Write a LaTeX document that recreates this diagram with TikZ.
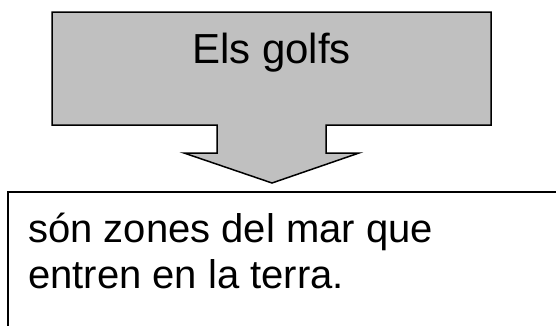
\documentclass[tikz,border=0pt]{standalone}
\usepackage{fontspec}
\setmainfont{Liberation Sans}
\begin{document}
\begin{tikzpicture}[x=1pt,y=-1pt,
  shapeline/.style={draw=black,line width=1.5pt,line join=miter},
  titletext/.style={inner sep=0pt,font=\fontsize{42}{48}\selectfont},
  bodytext/.style={inner sep=0pt,anchor=base west,font=\fontsize{40}{46}\selectfont}]
\useasboundingbox (0,0) rectangle (556,325);
\clip (0,0) rectangle (556,325);
% callout with down arrow
\draw[shapeline,fill={rgb,255:red,192;green,192;blue,192}]
  (52,12) -- (491,12) -- (491,125) -- (326,125) -- (326,153) -- (359,153)
  -- (272,183) -- (184,153) -- (217,153) -- (217,125) -- (52,125) -- cycle;
\node[titletext,anchor=base] (title) at (271.5,63) {Els golfs};
% lower box
\draw[shapeline,fill=white] (8,192) rectangle (580,345);
\node[bodytext] (line1) at (28,242) {són zones del mar que};
\node[bodytext] (line2) at (28,288) {entren en la terra.};
\end{tikzpicture}
\end{document}
